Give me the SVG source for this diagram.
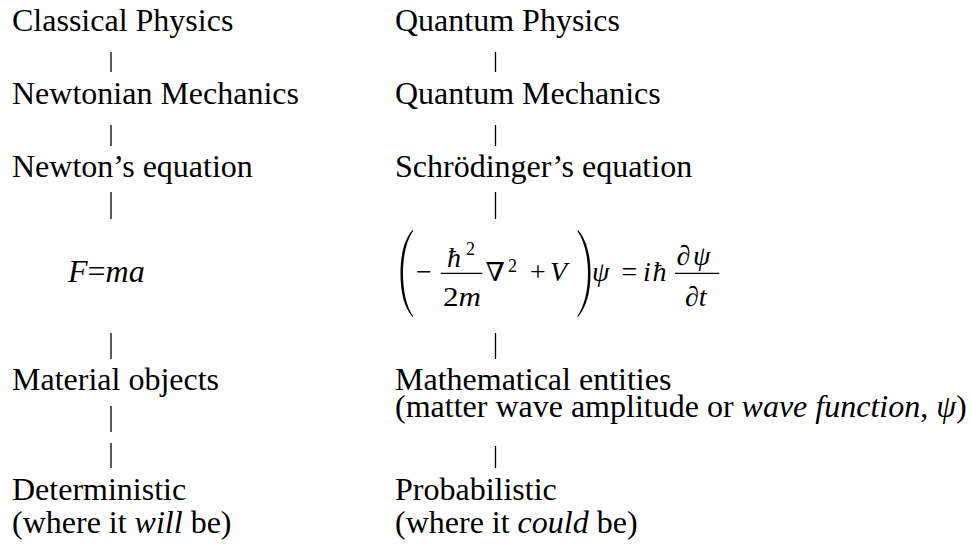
<svg xmlns="http://www.w3.org/2000/svg" width="972" height="546" viewBox="0 0 972 546" font-family="'Liberation Serif', 'Times New Roman', Times, serif">
<style>
text{font-family:'Liberation Serif','Times New Roman',Times,serif;fill:#000}
.t{font-size:32px}
.m{font-size:28px}
.s{font-size:18px}
.i{font-style:italic}
.nab{font-family:'DejaVu Serif','Liberation Serif',serif;font-size:26px}
.c line{stroke:#000;stroke-width:1.3}
</style>
<rect width="972" height="546" fill="#fff"/>
<g id="connectors" class="c">
<line x1="111" y1="52" x2="111" y2="72"/>
<line x1="111" y1="125" x2="111" y2="146"/>
<line x1="111" y1="192" x2="111" y2="219"/>
<line x1="111" y1="333" x2="111" y2="359"/>
<line x1="111" y1="406" x2="111" y2="432"/>
<line x1="111" y1="443" x2="111" y2="468"/>
<line x1="495.5" y1="52" x2="495.5" y2="72"/>
<line x1="495.5" y1="125" x2="495.5" y2="146"/>
<line x1="495.5" y1="192" x2="495.5" y2="219"/>
<line x1="495.5" y1="333" x2="495.5" y2="359"/>
<line x1="495.5" y1="446" x2="495.5" y2="468"/>
</g>
<g id="classical-physics"><text class="t" x="12" y="31">Classical Physics</text></g>
<g id="newtonian-mechanics"><text class="t" x="12" y="104">Newtonian Mechanics</text></g>
<g id="newtons-equation"><text class="t" x="12" y="177">Newton’s equation</text></g>
<g id="f-ma"><text class="t" x="68" y="282"><tspan class="i">F</tspan>=<tspan class="i">ma</tspan></text></g>
<g id="material-objects"><text class="t" x="12" y="390">Material objects</text></g>
<g id="deterministic"><text class="t" x="12" y="500">Deterministic</text><text class="t" x="12" y="533">(where it <tspan class="i">will</tspan> be)</text></g>
<g id="quantum-physics"><text class="t" x="395" y="31">Quantum Physics</text></g>
<g id="quantum-mechanics"><text class="t" x="395" y="104">Quantum Mechanics</text></g>
<g id="schrodingers-equation"><text class="t" x="395" y="177">Schrödinger’s equation</text></g>
<g id="schrodinger-formula">
<path d="M412.5,230 C404,240 400.5,255 400.5,273.5 C400.5,292 404,307 412.5,317 L413.2,316.2 C406.2,306 403,291 403,273.5 C403,256 406.2,241 413.2,230.8 Z" fill="#000"/>
<path d="M578,230 C586.5,240 590.5,255 590.5,273.5 C590.5,292 586.5,307 578,317 L577.3,316.2 C584.3,306 588,291 588,273.5 C588,256 584.3,241 577.3,230.8 Z" fill="#000"/>
<text class="m" x="416" y="281">−</text>
<line x1="440.7" y1="273.3" x2="482.3" y2="273.3" stroke="#000" stroke-width="1.3"/>
<text class="m i" x="447" y="267">ħ</text>
<text class="s" x="466" y="255">2</text>
<text class="m" x="443" y="306" textLength="38" lengthAdjust="spacingAndGlyphs">2<tspan class="i">m</tspan></text>
<text class="nab" x="485.5" y="281" textLength="19.5" lengthAdjust="spacingAndGlyphs">∇</text>
<text class="s" x="508" y="272">2</text>
<text class="m" x="530" y="281">+</text>
<text class="m i" x="550" y="281">V</text>
<text class="m i" x="592" y="281">ψ</text>
<text class="m" x="621.5" y="281">=</text>
<text class="m i" x="643" y="281">i</text>
<text class="m i" x="652.5" y="281">ħ</text>
<line x1="675" y1="273.3" x2="719.3" y2="273.3" stroke="#000" stroke-width="1.3"/>
<text class="m" x="676.5" y="265">∂<tspan class="i" x="693">ψ</tspan></text>
<text class="m" x="685" y="306">∂<tspan class="i">t</tspan></text>
</g>
<g id="mathematical-entities"><text class="t" x="395" y="390">Mathematical entities</text><text class="t" x="395" y="417">(matter wave amplitude or <tspan class="i">wave function</tspan>, <tspan class="i">ψ</tspan>)</text></g>
<g id="probabilistic"><text class="t" x="395" y="500">Probabilistic</text><text class="t" x="395" y="533">(where it <tspan class="i">could</tspan> be)</text></g>
</svg>
